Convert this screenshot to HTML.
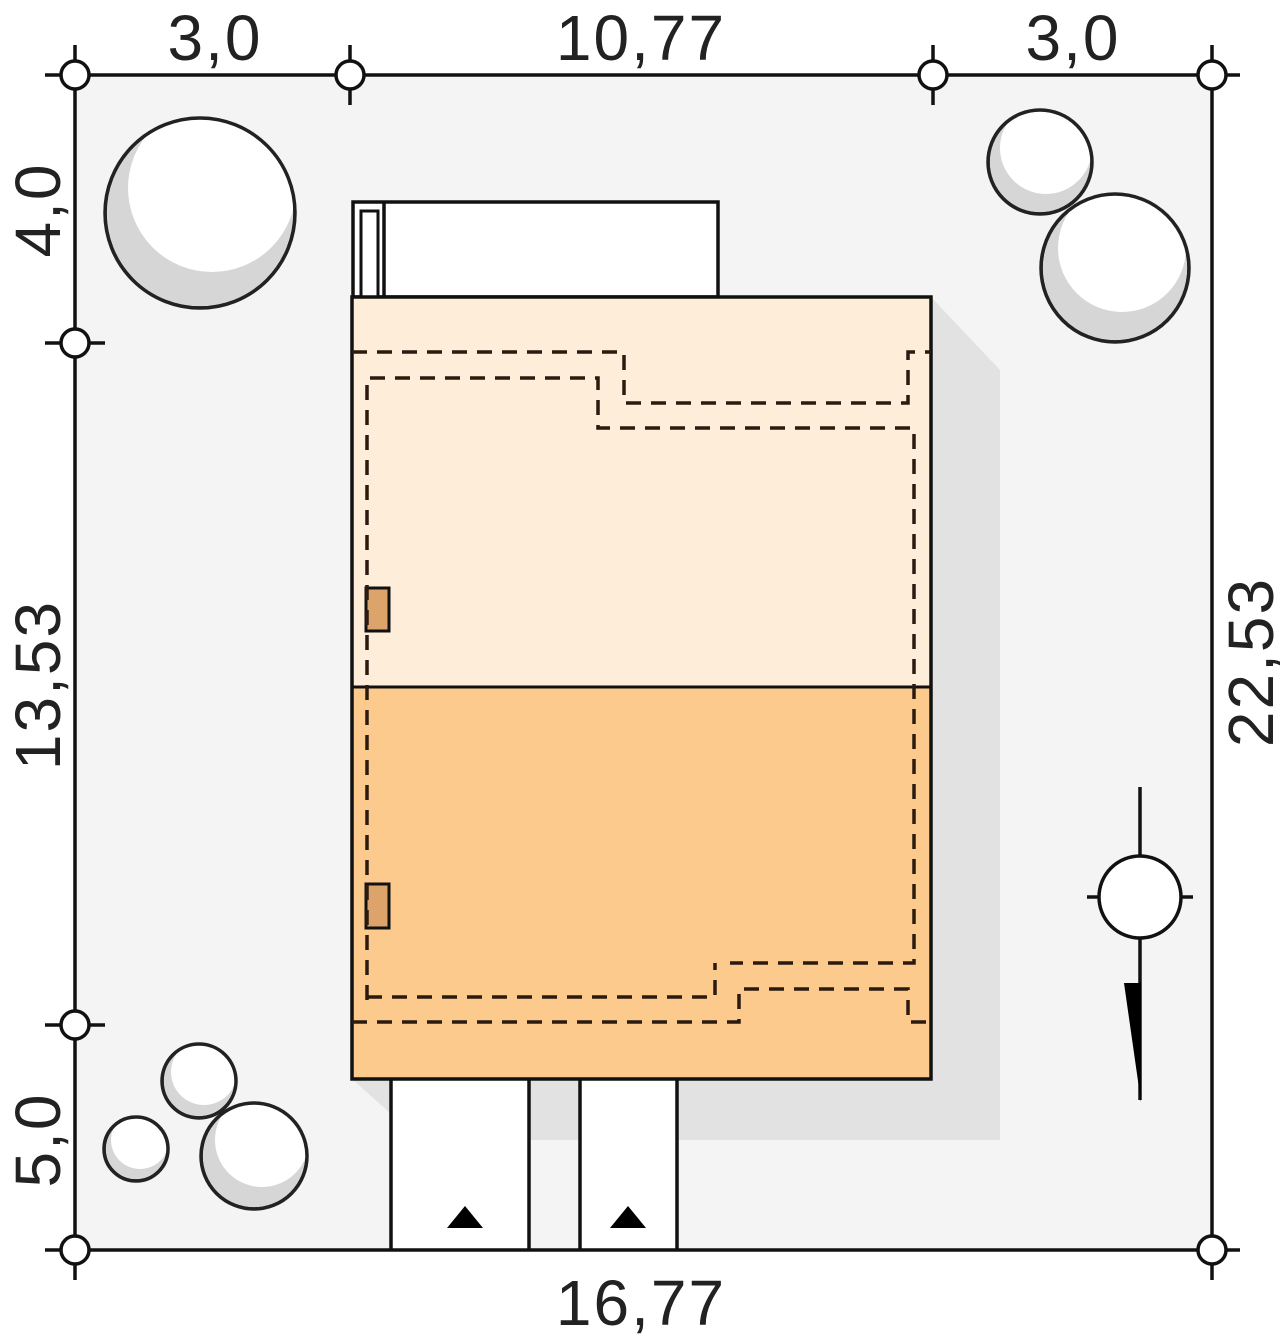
<!DOCTYPE html>
<html><head><meta charset="utf-8"><style>
html,body{margin:0;padding:0;background:#fff;}
svg{display:block;}
text{font-family:"Liberation Sans",sans-serif;font-size:64px;fill:#222;letter-spacing:2px;}
</style></head><body>
<svg width="1280" height="1340" viewBox="0 0 1280 1340" xmlns="http://www.w3.org/2000/svg">
<defs>
<clipPath id="c1"><circle cx="200" cy="213" r="95"/></clipPath>
<clipPath id="c2"><circle cx="1040" cy="162" r="52"/></clipPath>
<clipPath id="c3"><circle cx="1115" cy="268" r="74"/></clipPath>
<clipPath id="c4"><circle cx="199" cy="1081" r="37"/></clipPath>
<clipPath id="c5"><circle cx="136" cy="1149" r="32"/></clipPath>
<clipPath id="c6"><circle cx="254" cy="1156" r="53"/></clipPath>
</defs>
<rect x="75" y="75" width="1137" height="1175" fill="#f4f4f4"/>
<polygon points="931,297 1000,370 1000,1140 420,1140 352,1079 931,1079" fill="#e2e2e2"/>
<g stroke="#222" stroke-width="3.5">
<g clip-path="url(#c1)"><circle cx="200" cy="213" r="95" fill="#d6d6d6"/><circle cx="212" cy="188" r="84" fill="#fff" stroke="none"/></g><circle cx="200" cy="213" r="95" fill="none"/>
<g clip-path="url(#c2)"><circle cx="1040" cy="162" r="52" fill="#d6d6d6"/><circle cx="1046" cy="148" r="46" fill="#fff" stroke="none"/></g><circle cx="1040" cy="162" r="52" fill="none"/>
<g clip-path="url(#c3)"><circle cx="1115" cy="268" r="74" fill="#d6d6d6"/><circle cx="1122" cy="248" r="64" fill="#fff" stroke="none"/></g><circle cx="1115" cy="268" r="74" fill="none"/>
<g clip-path="url(#c4)"><circle cx="199" cy="1081" r="37" fill="#d6d6d6"/><circle cx="204" cy="1072" r="33" fill="#fff" stroke="none"/></g><circle cx="199" cy="1081" r="37" fill="none"/>
<g clip-path="url(#c5)"><circle cx="136" cy="1149" r="32" fill="#d6d6d6"/><circle cx="140" cy="1140" r="29" fill="#fff" stroke="none"/></g><circle cx="136" cy="1149" r="32" fill="none"/>
<g clip-path="url(#c6)"><circle cx="254" cy="1156" r="53" fill="#d6d6d6"/><circle cx="262" cy="1140" r="47" fill="#fff" stroke="none"/></g><circle cx="254" cy="1156" r="53" fill="none"/>
</g>
<rect x="391" y="1079" width="138" height="171" fill="#fff"/>
<rect x="580" y="1079" width="97" height="171" fill="#fff"/>
<g stroke="#111" stroke-width="3.5">
<line x1="391" y1="1079" x2="391" y2="1250"/><line x1="529" y1="1079" x2="529" y2="1250"/>
<line x1="580" y1="1079" x2="580" y2="1250"/><line x1="677" y1="1079" x2="677" y2="1250"/>
</g>
<polygon points="465,1206 483,1228 447,1228" fill="#000"/>
<polygon points="628,1206 646,1228 610,1228" fill="#000"/>
<rect x="353" y="202" width="365" height="95" fill="#fff" stroke="#111" stroke-width="3.5"/>
<rect x="361" y="211" width="17" height="86" fill="#fff" stroke="#111" stroke-width="3"/>
<line x1="384" y1="202" x2="384" y2="297" stroke="#111" stroke-width="3.5"/>
<rect x="352" y="297" width="579" height="390" fill="#fdedd9"/>
<rect x="352" y="687" width="579" height="392" fill="#fcca8c"/>
<rect x="352" y="297" width="579" height="782" fill="none" stroke="#111" stroke-width="3.5"/>
<line x1="352" y1="687" x2="931" y2="687" stroke="#111" stroke-width="3"/>
<rect x="366" y="588" width="23" height="43" fill="#dca36a" stroke="#111" stroke-width="3"/>
<rect x="366" y="884" width="23" height="44" fill="#dca36a" stroke="#111" stroke-width="3"/>
<g fill="none" stroke="#2a1a10" stroke-width="3.5" stroke-dasharray="15,10">
<polyline points="352,352 624,352 624,403 908,403 908,352 931,352"/>
<polyline points="367,1000 367,378 598,378 598,428 914,428 914,963 730,963"/>
<polyline points="367,997 715,997 715,963"/>
<polyline points="352,1022 739,1022 739,989 908,989 908,1022 931,1022"/>
</g>
<g stroke="#111" stroke-width="3.5">
<line x1="45" y1="75" x2="1240" y2="75"/>
<line x1="45" y1="1250" x2="1240" y2="1250"/>
<line x1="75" y1="45" x2="75" y2="1280"/>
<line x1="1212" y1="45" x2="1212" y2="1280"/>
<line x1="350" y1="45" x2="350" y2="105"/>
<line x1="933" y1="45" x2="933" y2="105"/>
<line x1="45" y1="343" x2="105" y2="343"/>
<line x1="45" y1="1025" x2="105" y2="1025"/>
</g>
<g fill="#fff" stroke="#111" stroke-width="3.5">
<circle cx="75" cy="75" r="14"/><circle cx="350" cy="75" r="14"/><circle cx="933" cy="75" r="14"/><circle cx="1212" cy="75" r="14"/>
<circle cx="75" cy="343" r="14"/><circle cx="75" cy="1025" r="14"/><circle cx="75" cy="1250" r="14"/><circle cx="1212" cy="1250" r="14"/>
</g>
<text x="215" y="60" text-anchor="middle">3,0</text>
<text x="641" y="60" text-anchor="middle">10,77</text>
<text x="1073" y="60" text-anchor="middle">3,0</text>
<text x="641" y="1325" text-anchor="middle">16,77</text>
<text transform="translate(60,210) rotate(-90)" text-anchor="middle">4,0</text>
<text transform="translate(60,685) rotate(-90)" text-anchor="middle">13,53</text>
<text transform="translate(60,1140) rotate(-90)" text-anchor="middle">5,0</text>
<text transform="translate(1273,662) rotate(-90)" text-anchor="middle">22,53</text>
<g stroke="#111" stroke-width="3.5">
<line x1="1140" y1="787" x2="1140" y2="1100"/>
<line x1="1087" y1="897" x2="1193" y2="897"/>
<circle cx="1140" cy="897" r="41" fill="#fff"/>
</g>
<polygon points="1124,983 1141,983 1141,1102" fill="#000"/>
</svg>
</body></html>
